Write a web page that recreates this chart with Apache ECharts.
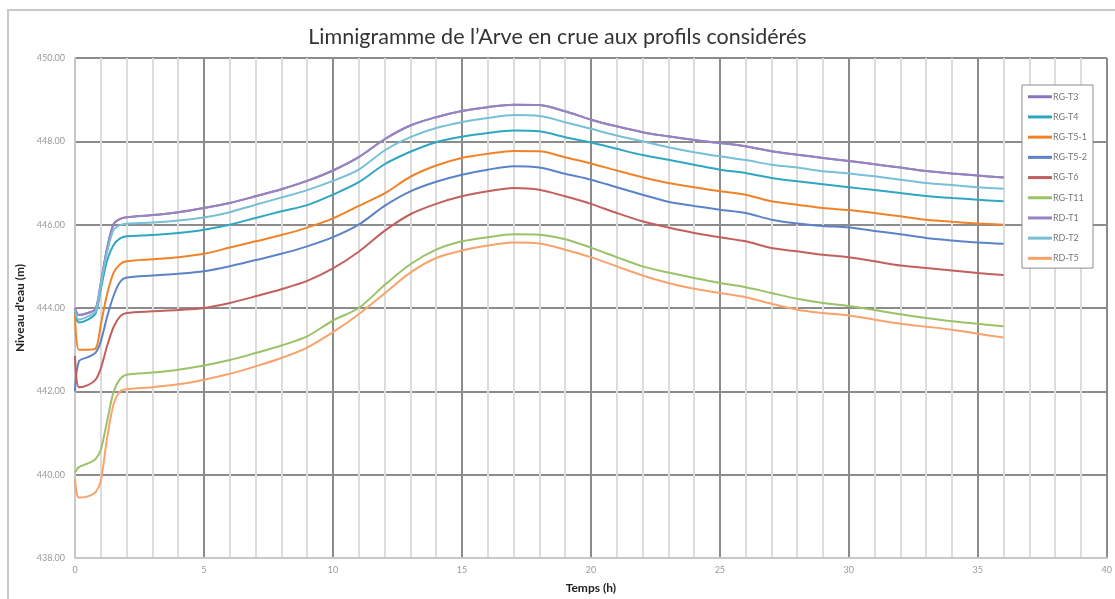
<!DOCTYPE html>
<html>
<head>
<meta charset="utf-8">
<script src="https://cdn.jsdelivr.net/npm/echarts@6/dist/echarts.min.js"></script>
<style>html,body{margin:0;padding:0;background:#fff;overflow:hidden}#c{width:1115px;height:599px}</style>
</head>
<body>
<div id="c"></div>
<script>
// Time (hours)
const times = [0,0.15,0.5,0.8,1,1.25,1.5,1.75,2,3,4,5,6,7,8,9,10,11,12,13,14,15,16,17,18,19,20,21,22,23,24,25,26,27,28,29,30,31,32,33,34,35,36];

const seriesNames = ['RG-T3','RG-T4','RG-T5-1','RG-T5-2','RG-T6','RG-T11','RD-T1','RD-T2','RD-T5'];

const rgT3  = [444.0,443.83,443.88,443.98,444.6,445.45,446.02,446.14,446.18,446.23,446.3,446.4,446.52,446.68,446.85,447.05,447.3,447.62,448.05,448.38,448.58,448.73,448.82,448.88,448.87,448.72,448.52,448.36,448.22,448.12,448.03,447.96,447.88,447.76,447.68,447.6,447.53,447.45,447.37,447.29,447.23,447.18,447.13];
const rgT4  = [443.9,443.65,443.72,443.87,444.45,445.15,445.52,445.67,445.72,445.75,445.8,445.88,446.0,446.16,446.32,446.47,446.72,447.02,447.45,447.75,447.98,448.11,448.2,448.26,448.24,448.1,447.97,447.82,447.67,447.56,447.44,447.32,447.24,447.12,447.04,446.97,446.9,446.83,446.76,446.69,446.64,446.6,446.56];
const rgT51 = [443.85,443.0,443.0,443.03,443.6,444.35,444.85,445.05,445.12,445.17,445.22,445.3,445.45,445.6,445.75,445.93,446.15,446.45,446.75,447.15,447.42,447.6,447.7,447.77,447.76,447.62,447.47,447.3,447.14,447.0,446.9,446.8,446.72,446.56,446.48,446.4,446.35,446.28,446.2,446.12,446.07,446.03,446.0];
const rgT52 = [442.0,442.72,442.82,442.93,443.2,443.8,444.3,444.63,444.73,444.78,444.82,444.88,445.0,445.15,445.3,445.48,445.7,446.0,446.45,446.8,447.03,447.2,447.32,447.4,447.37,447.22,447.08,446.9,446.72,446.55,446.45,446.36,446.28,446.12,446.03,445.97,445.93,445.85,445.77,445.68,445.62,445.57,445.54];
const rgT6  = [442.85,442.1,442.15,442.28,442.55,443.1,443.55,443.8,443.88,443.92,443.95,444.0,444.12,444.28,444.45,444.65,444.95,445.35,445.85,446.25,446.5,446.68,446.8,446.88,446.84,446.68,446.5,446.28,446.08,445.93,445.8,445.7,445.6,445.44,445.36,445.28,445.22,445.12,445.02,444.96,444.9,444.84,444.79];
const rgT11 = [440.05,440.18,440.27,440.38,440.6,441.3,442.0,442.3,442.4,442.45,442.52,442.62,442.75,442.92,443.1,443.32,443.7,444.0,444.55,445.05,445.4,445.6,445.7,445.77,445.76,445.65,445.45,445.22,445.0,444.85,444.72,444.6,444.5,444.36,444.22,444.12,444.05,443.95,443.85,443.76,443.68,443.62,443.56];
const rdT1  = [444.0,443.83,443.88,443.98,444.6,445.45,446.02,446.14,446.18,446.23,446.3,446.4,446.52,446.68,446.85,447.05,447.3,447.62,448.05,448.38,448.58,448.73,448.82,448.88,448.87,448.72,448.52,448.36,448.22,448.12,448.03,447.96,447.88,447.76,447.68,447.6,447.53,447.45,447.37,447.29,447.23,447.18,447.13];
const rdT2  = [443.95,443.72,443.8,443.92,444.55,445.35,445.88,445.99,446.02,446.05,446.1,446.17,446.3,446.48,446.65,446.83,447.05,447.32,447.78,448.1,448.32,448.46,448.56,448.63,448.61,448.46,448.3,448.14,448.0,447.86,447.74,447.64,447.55,447.44,447.37,447.28,447.23,447.16,447.08,447.0,446.95,446.9,446.86];
const rdT5  = [439.9,439.45,439.48,439.58,439.85,440.9,441.7,442.0,442.05,442.1,442.17,442.28,442.42,442.6,442.8,443.05,443.42,443.85,444.35,444.85,445.2,445.38,445.5,445.57,445.55,445.4,445.22,445.0,444.78,444.6,444.46,444.36,444.26,444.1,443.96,443.88,443.82,443.72,443.62,443.55,443.48,443.38,443.29];

const allValues = [rgT3, rgT4, rgT51, rgT52, rgT6, rgT11, rdT1, rdT2, rdT5];
const colors = ['#8a74b6','#2fa6c2','#f0832a','#5b84c8','#c2605e','#9cc268','#9584c0','#78bfd8','#f8a36c'];

const chart = echarts.init(document.getElementById('c'), null, {renderer:'canvas', width: 1115, height: 599});
const font = 'Lato, "Open Sans", sans-serif';

const series = seriesNames.map((n, i) => ({
  name: n,
  type: 'line',
  data: times.map((t, k) => [t, allValues[i][k]]),
  symbol: 'none',
  smooth: 0.3,
  lineStyle: {width: 2, color: colors[i]},
  itemStyle: {color: colors[i]},
  z: 3
}));

chart.setOption({
  animation: false,
  backgroundColor: '#fff',
  graphic: [{
    type: 'rect', silent: true, z: 0,
    shape: {x: 8, y: 10, width: 1200, height: 700},
    style: {fill: 'none', stroke: '#c8c8c8', lineWidth: 2}
  }],
  title: {
    text: 'Limnigramme de l\u2019Arve en crue aux profils considérés',
    left: 'center', top: 21,
    textStyle: {fontFamily: font, fontSize: 21.5, fontWeight: 'normal', color: '#333'}
  },
  legend: {
    orient: 'vertical',
    right: 22, top: 85,
    data: seriesNames,
    backgroundColor: '#fff',
    borderColor: '#8c8c8c', borderWidth: 1,
    padding: [6, 6, 4, 6],
    itemWidth: 24, itemHeight: 3, itemGap: 8.7,
    icon: 'rect',
    textStyle: {fontFamily: font, fontSize: 9, color: '#777', lineHeight: 11.5, padding: [0,0,0,-4]}
  },
  grid: {left: 75, top: 58, width: 1040, height: 501, containLabel: false},
  xAxis: {
    type: 'value', min: 0, max: 40, interval: 5,
    name: 'Temps (h)', nameLocation: 'middle', nameGap: 24,
    nameTextStyle: {fontFamily: font, fontSize: 12, fontWeight: 'bold', color: '#222'},
    axisLine: {show: true, onZero: false, lineStyle: {color: '#c8c8c8', width: 2}},
    axisTick: {show: false},
    axisLabel: {fontFamily: font, fontSize: 9, color: '#999', margin: 8},
    splitLine: {show: true, lineStyle: {color: '#8c8c8c', width: 2}},
    minorTick: {show: false, splitNumber: 5},
    minorSplitLine: {show: true, lineStyle: {color: '#dcdcdc', width: 2}}
  },
  yAxis: {
    type: 'value', min: 438, max: 450, interval: 2,
    name: 'Niveau d\'eau (m)', nameLocation: 'middle', nameGap: 42, nameRotate: 90,
    nameTextStyle: {fontFamily: font, fontSize: 12, fontWeight: 'bold', color: '#222'},
    axisLine: {show: true, onZero: false, lineStyle: {color: '#c8c8c8', width: 2}},
    axisTick: {show: false},
    axisLabel: {fontFamily: font, fontSize: 9, color: '#999', margin: 10,
      formatter: v => v.toFixed(2)},
    splitLine: {show: true, lineStyle: {color: '#8c8c8c', width: 2}}
  },
  series: series
});
</script>
</body>
</html>
